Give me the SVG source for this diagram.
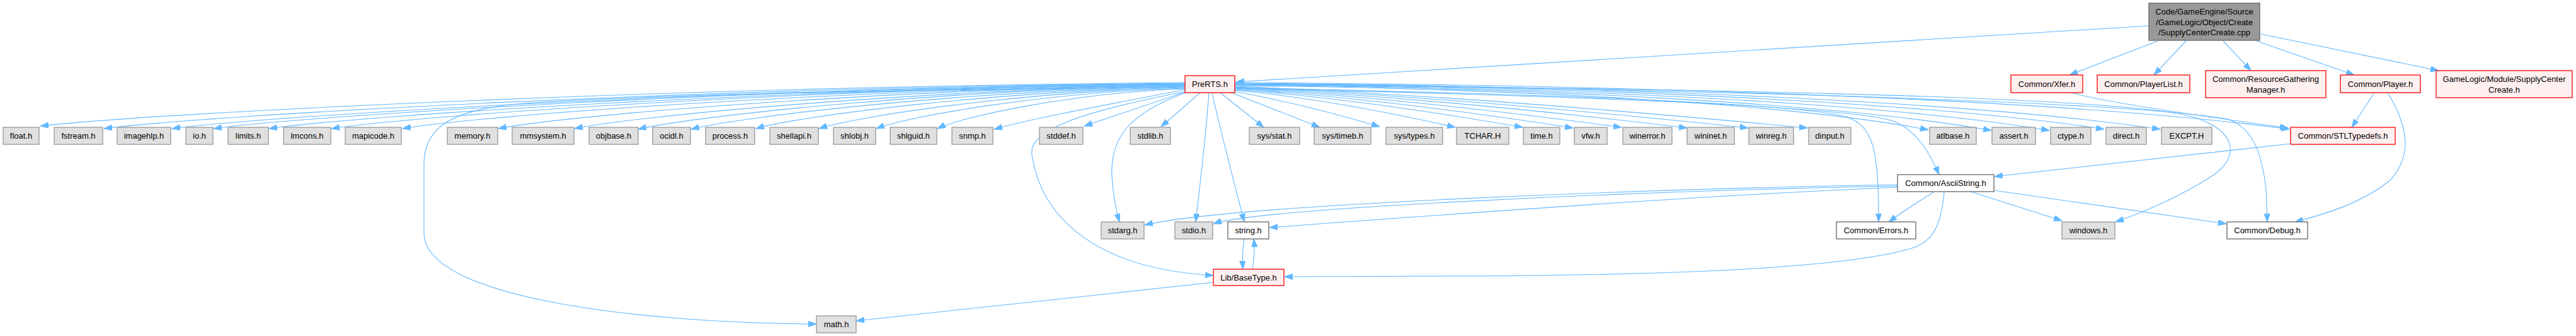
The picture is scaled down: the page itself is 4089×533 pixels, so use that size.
<svg xmlns="http://www.w3.org/2000/svg" width="4089" height="533" viewBox="0 0 4089 533">
<style>
rect{stroke-width:1.3}
.g{fill:#e0e0e0;stroke:#999999}
.r{fill:#fff0f0;stroke:#ff0000}
.w{fill:#ffffff;stroke:#666666}
.rt{fill:#999999;stroke:#666666}
text{font-family:"Liberation Sans",Arial,sans-serif;font-size:13px;text-anchor:middle;fill:#000}
#edges path{fill:none;stroke:#63b8ff;stroke-width:1.1;marker-end:url(#a)}
</style>
<defs>
<marker id="a" markerWidth="14" markerHeight="10" refX="13" refY="4.6" orient="auto" markerUnits="userSpaceOnUse">
<path d="M0,0 L13,4.6 L0,9.2 z" fill="#63b8ff" stroke="#63b8ff" stroke-width="1"/>
</marker>
</defs>
<rect width="4089" height="533" fill="#ffffff"/>
<g id="edges">
<path d="M3411,41 L1962,130"/>
<path d="M3425,65 L3285,119"/>
<path d="M3470,65 L3419,119"/>
<path d="M3529,65 L3573,112"/>
<path d="M3582,65 L3737,119"/>
<path d="M3589,54 L3871,112"/>
<path d="M1881,131 C1063,138 246,179 64,200"/>
<path d="M1881,132 C1109,139 337,182 165,204"/>
<path d="M1881,133 C1157,140 434,183 273,204"/>
<path d="M1881,133 C1187,140 493,183 339,204"/>
<path d="M1881,134 C1227,141 572,183 427,204"/>
<path d="M1881,134 C1271,141 662,183 526,204"/>
<path d="M1881,135 C1322,142 763,183 639,204"/>
<path d="M1881,135 C1390,142 900,183 791,204"/>
<path d="M1881,136 C1445,143 1009,184 912,204"/>
<path d="M1881,136 C1490,143 1100,184 1013,205"/>
<path d="M1881,137 C1528,144 1175,185 1097,205"/>
<path d="M1881,138 C1575,145 1268,184 1200,204"/>
<path d="M1881,139 C1620,145 1358,185 1300,204"/>
<path d="M1881,140 C1660,146 1440,185 1391,204"/>
<path d="M1881,141 C1704,147 1527,185 1488,204"/>
<path d="M1882,142 C1790,160 1650,185 1578,205"/>
<path d="M1884,145 L1721,200"/>
<path d="M1905,147 L1843,201"/>
<path d="M1937,147 L2006,202"/>
<path d="M1955,147 L2095,202"/>
<path d="M1960,145 C2040,160 2120,180 2190,201"/>
<path d="M1960,143 C2082,155 2205,178 2310,202"/>
<path d="M1960,142 C2120,154 2280,178 2417,202"/>
<path d="M1960,141 C2148,153 2336,178 2497,203"/>
<path d="M1960,140 C2175,152 2390,177 2574,202"/>
<path d="M1960,139 C2211,152 2463,177 2678,203"/>
<path d="M1960,138 C2245,151 2530,177 2775,203"/>
<path d="M1960,137 C2278,150 2596,177 2869,203"/>
<path d="M1960,136 C2400,140 2841,164 3061,206"/>
<path d="M1960,135 C2440,139 2921,164 3161,207"/>
<path d="M1960,134 C2477,138 2994,163 3253,207"/>
<path d="M1960,133 C2512,137 3064,162 3340,205"/>
<path d="M1960,132 C2548,136 3135,161 3429,205"/>
<path d="M1960,131 C2627,135 3294,159 3634,205"/>
<path d="M1960,139 C2500,150 2850,165 2930,185 C2975,200 2982,240 2982,352"/>
<path d="M1960,140 C2500,152 2930,168 3005,192 C3040,205 3062,240 3078,277"/>
<path d="M1960,134 C2600,140 3350,150 3480,185 C3560,210 3550,255 3510,280 C3460,312 3400,338 3358,352"/>
<path d="M1960,133 C2600,140 3400,160 3540,190 C3575,205 3590,240 3597,300 L3599,352"/>
<path d="M1881,138 C1500,142 1000,150 820,165 C720,175 673,200 673,260 L673,370 C673,470 1000,512 1296,514"/>
<path d="M1883,145 C1700,180 1632,210 1638,245 C1650,330 1720,425 1926,437"/>
<path d="M1885,146 C1790,180 1762,220 1765,280 C1767,310 1772,335 1777,352"/>
<path d="M1919,147 C1914,220 1905,290 1898,352"/>
<path d="M1924,147 C1940,220 1962,300 1975,352"/>
<path d="M1975,379 C1972,395 1972,410 1973,427"/>
<path d="M1988,427 C1991,410 1992,395 1990,379"/>
<path d="M1926,448 L1359,509"/>
<path d="M3012,293 C2600,300 1950,325 1817,357"/>
<path d="M3012,295 C2600,303 2000,330 1926,355"/>
<path d="M3012,297 C2700,310 2300,340 2015,361"/>
<path d="M3069,305 C3045,320 3020,336 2998,352"/>
<path d="M3128,304 L3273,350"/>
<path d="M3165,302 L3534,355"/>
<path d="M3086,304 C3082,350 3072,380 3040,392 C2950,422 2700,437 2300,438 L2039,439"/>
<path d="M3636,228 L3166,280"/>
<path d="M3769,147 L3733,202"/>
<path d="M3790,147 C3822,200 3830,245 3795,285 C3750,322 3690,340 3643,352"/>
<path d="M3288,147 C3330,160 3500,185 3632,203"/>
</g>
<g id="root"><rect class="rt" x="3411" y="5" width="176" height="59"/><text x="3499" y="23">Code/GameEngine/Source</text><text x="3499" y="39.5">/GameLogic/Object/Create</text><text x="3499" y="56">/SupplyCenterCreate.cpp</text></g>
<g id="n_prerts"><rect class="r" x="1881" y="120" width="79" height="27"/><text x="1920.5" y="138">PreRTS.h</text></g>
<g id="n_xfer"><rect class="r" x="3192" y="119" width="114" height="28"/><text x="3249" y="137.5">Common/Xfer.h</text></g>
<g id="n_playerlist"><rect class="r" x="3329" y="119" width="147" height="28"/><text x="3402.5" y="137.5">Common/PlayerList.h</text></g>
<g id="n_rgm"><rect class="r" x="3501" y="112" width="191" height="43"/><text x="3596.5" y="130">Common/ResourceGathering</text><text x="3596.5" y="146.5">Manager.h</text></g>
<g id="n_player"><rect class="r" x="3715" y="119" width="127" height="28"/><text x="3778.5" y="137.5">Common/Player.h</text></g>
<g id="n_scc"><rect class="r" x="3867" y="112" width="216" height="43"/><text x="3975" y="130">GameLogic/Module/SupplyCenter</text><text x="3975" y="146.5">Create.h</text></g>
<g id="n_float"><rect class="g" x="5" y="202" width="57" height="27"/><text x="33.5" y="220">float.h</text></g>
<g id="n_fstream"><rect class="g" x="86" y="202" width="77" height="27"/><text x="124.5" y="220">fstream.h</text></g>
<g id="n_imagehlp"><rect class="g" x="186" y="202" width="85" height="27"/><text x="228.5" y="220">imagehlp.h</text></g>
<g id="n_io"><rect class="g" x="295" y="202" width="43" height="27"/><text x="316.5" y="220">io.h</text></g>
<g id="n_limits"><rect class="g" x="362" y="202" width="64" height="27"/><text x="394" y="220">limits.h</text></g>
<g id="n_lmcons"><rect class="g" x="450" y="202" width="75" height="27"/><text x="487.5" y="220">lmcons.h</text></g>
<g id="n_mapicode"><rect class="g" x="548" y="202" width="89" height="27"/><text x="592.5" y="220">mapicode.h</text></g>
<g id="n_memory"><rect class="g" x="710" y="202" width="80" height="27"/><text x="750" y="220">memory.h</text></g>
<g id="n_mmsystem"><rect class="g" x="813" y="202" width="98" height="27"/><text x="862" y="220">mmsystem.h</text></g>
<g id="n_objbase"><rect class="g" x="935" y="202" width="78" height="27"/><text x="974" y="220">objbase.h</text></g>
<g id="n_ocidl"><rect class="g" x="1036" y="202" width="60" height="27"/><text x="1066" y="220">ocidl.h</text></g>
<g id="n_process"><rect class="g" x="1120" y="202" width="78" height="27"/><text x="1159" y="220">process.h</text></g>
<g id="n_shellapi"><rect class="g" x="1222" y="202" width="77" height="27"/><text x="1260.5" y="220">shellapi.h</text></g>
<g id="n_shlobj"><rect class="g" x="1323" y="202" width="67" height="27"/><text x="1356.5" y="220">shlobj.h</text></g>
<g id="n_shlguid"><rect class="g" x="1413" y="202" width="74" height="27"/><text x="1450" y="220">shlguid.h</text></g>
<g id="n_snmp"><rect class="g" x="1511" y="202" width="65" height="27"/><text x="1543.5" y="220">snmp.h</text></g>
<g id="n_stddef"><rect class="g" x="1650" y="202" width="69" height="27"/><text x="1684.5" y="220">stddef.h</text></g>
<g id="n_stdlib"><rect class="g" x="1794" y="202" width="64" height="27"/><text x="1826" y="220">stdlib.h</text></g>
<g id="n_sysstat"><rect class="g" x="1983" y="202" width="80" height="27"/><text x="2023" y="220">sys/stat.h</text></g>
<g id="n_systimeb"><rect class="g" x="2086" y="202" width="90" height="27"/><text x="2131" y="220">sys/timeb.h</text></g>
<g id="n_systypes"><rect class="g" x="2200" y="202" width="90" height="27"/><text x="2245" y="220">sys/types.h</text></g>
<g id="n_tchar"><rect class="g" x="2312" y="202" width="83" height="27"/><text x="2353.5" y="220">TCHAR.H</text></g>
<g id="n_time"><rect class="g" x="2418" y="202" width="58" height="27"/><text x="2447" y="220">time.h</text></g>
<g id="n_vfw"><rect class="g" x="2499" y="202" width="52" height="27"/><text x="2525" y="220">vfw.h</text></g>
<g id="n_winerror"><rect class="g" x="2576" y="202" width="78" height="27"/><text x="2615" y="220">winerror.h</text></g>
<g id="n_wininet"><rect class="g" x="2678" y="202" width="75" height="27"/><text x="2715.5" y="220">wininet.h</text></g>
<g id="n_winreg"><rect class="g" x="2776" y="202" width="71" height="27"/><text x="2811.5" y="220">winreg.h</text></g>
<g id="n_dinput"><rect class="g" x="2871" y="202" width="67" height="27"/><text x="2904.5" y="220">dinput.h</text></g>
<g id="n_atlbase"><rect class="g" x="3063" y="202" width="74" height="27"/><text x="3100" y="220">atlbase.h</text></g>
<g id="n_assert"><rect class="g" x="3162" y="202" width="69" height="27"/><text x="3196.5" y="220">assert.h</text></g>
<g id="n_ctype"><rect class="g" x="3255" y="202" width="64" height="27"/><text x="3287" y="220">ctype.h</text></g>
<g id="n_direct"><rect class="g" x="3343" y="202" width="64" height="27"/><text x="3375" y="220">direct.h</text></g>
<g id="n_excpt"><rect class="g" x="3431" y="202" width="80" height="27"/><text x="3471" y="220">EXCPT.H</text></g>
<g id="n_stltypedefs"><rect class="r" x="3636" y="202" width="166" height="27"/><text x="3719" y="220">Common/STLTypedefs.h</text></g>
<g id="n_asciistring"><rect class="w" x="3012" y="277" width="153" height="27"/><text x="3088.5" y="295">Common/AsciiString.h</text></g>
<g id="n_stdarg"><rect class="g" x="1748" y="352" width="68" height="27"/><text x="1782" y="370">stdarg.h</text></g>
<g id="n_stdio"><rect class="g" x="1865" y="352" width="60" height="27"/><text x="1895" y="370">stdio.h</text></g>
<g id="n_string"><rect class="w" x="1949" y="352" width="65" height="27"/><text x="1981.5" y="370">string.h</text></g>
<g id="n_errors"><rect class="w" x="2915" y="352" width="126" height="27"/><text x="2978" y="370">Common/Errors.h</text></g>
<g id="n_windows"><rect class="g" x="3273" y="352" width="84" height="27"/><text x="3315" y="370">windows.h</text></g>
<g id="n_debug"><rect class="w" x="3535" y="352" width="128" height="27"/><text x="3599" y="370">Common/Debug.h</text></g>
<g id="n_basetype"><rect class="r" x="1926" y="427" width="112" height="26"/><text x="1982" y="444.5">Lib/BaseType.h</text></g>
<g id="n_math"><rect class="g" x="1296" y="501" width="63" height="27"/><text x="1327.5" y="519">math.h</text></g>
</svg>
